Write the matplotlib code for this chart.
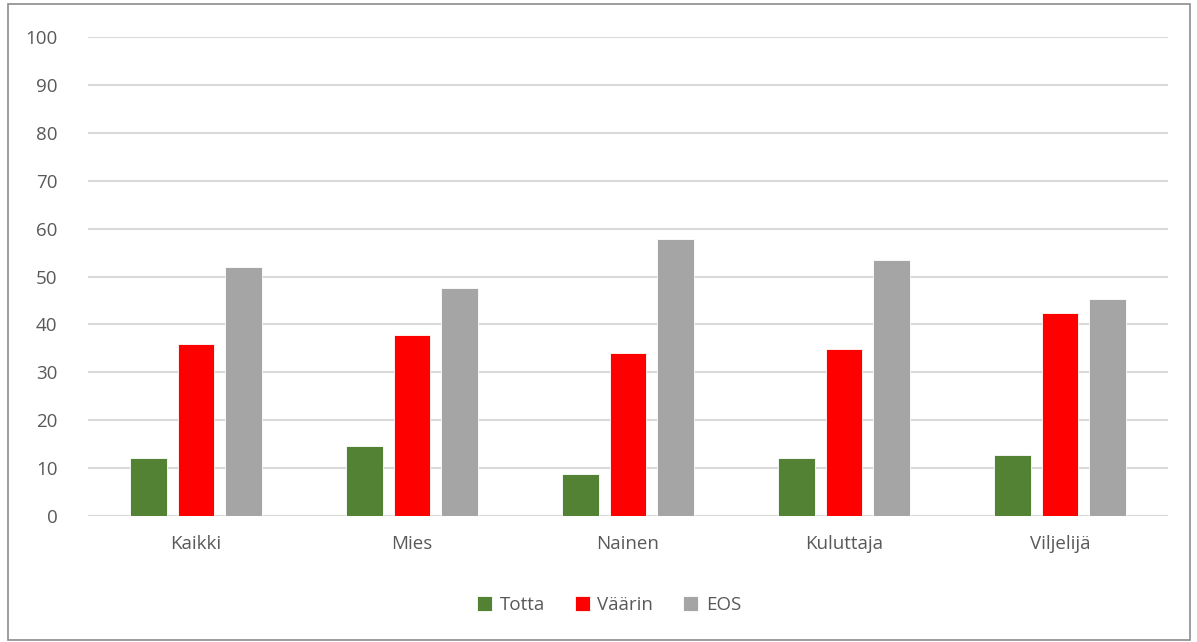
import matplotlib
matplotlib.use("Agg")
import matplotlib.pyplot as plt
import numpy as np
from matplotlib.patches import Rectangle

categories = ["Kaikki", "Mies", "Nainen", "Kuluttaja", "Viljelijä"]
totta = [12.2, 14.7, 8.7, 12.2, 12.7]
vaarin = [36.0, 37.7, 34.0, 34.9, 42.3]
eos = [52.0, 47.7, 57.8, 53.5, 45.2]
series_names = ["Totta", "Väärin", "EOS"]
colors = ["#548235", "#FF0000", "#A5A5A5"]

plt.rcParams['font.family'] = ['Open Sans', 'DejaVu Sans']

fig = plt.figure(figsize=(11.97, 6.42), dpi=100)
ax = fig.add_axes([88/1197, 1-516/642, 1080/1197, 479/642])

x = np.arange(len(categories))
w = 0.171
off = 0.222
for i, (vals, name, c) in enumerate(zip([totta, vaarin, eos], series_names, colors)):
    ax.bar(x + (i-1)*off, vals, width=w, color=c, label=name, zorder=3,
           edgecolor="#ffffff", linewidth=0.6)

ax.set_xlim(-0.5, len(categories)-0.5)
ax.set_ylim(0, 100)
ax.set_yticks(range(0, 101, 10))
ax.yaxis.grid(True, color="#d9d9d9", linewidth=1.5, zorder=0)
ax.set_axisbelow(True)
for s in ["top", "right", "left", "bottom"]:
    ax.spines[s].set_visible(False)
ax.axhline(0, color="#d9d9d9", linewidth=1.5, zorder=2)
ax.tick_params(axis='both', length=0, colors="#595959", labelsize=13.5)
ax.tick_params(axis='y', pad=22)
ax.tick_params(axis='x', pad=14)
ax.set_xticks(x)
ax.set_xticklabels(categories)

leg = fig.legend(loc="center", bbox_to_anchor=(609/1197, 1-605/642), ncol=3,
                 frameon=False, fontsize=13.5, handlelength=0.8, handleheight=0.8,
                 handletextpad=0.4, columnspacing=1.6, labelcolor="#595959")

fig.patches.append(Rectangle((8/1197, 2/642), 1182/1197, 636/642, transform=fig.transFigure,
                             fill=False, edgecolor="#8c8c8c", linewidth=1.2))

fig.savefig("out.png", dpi=100)
